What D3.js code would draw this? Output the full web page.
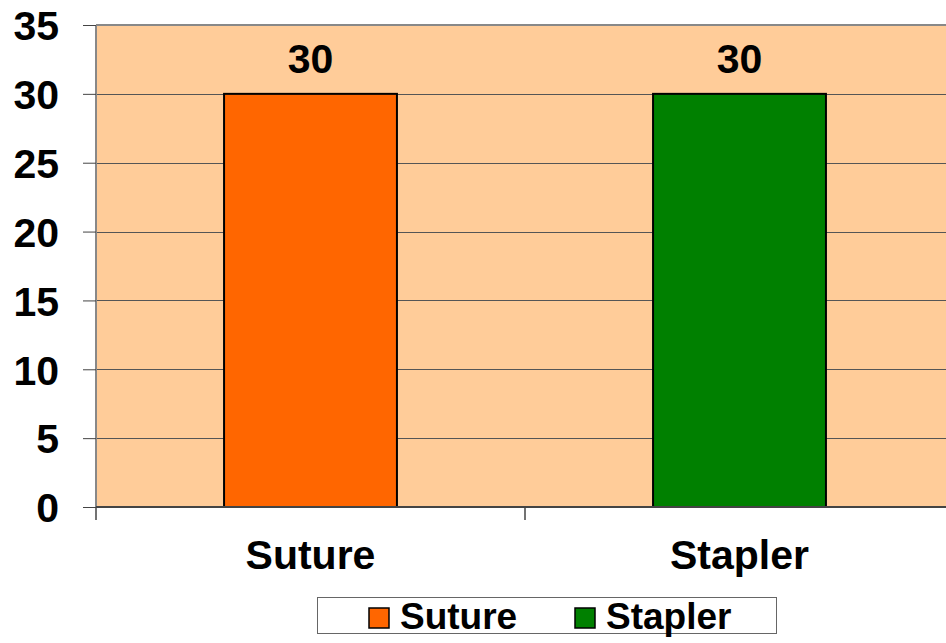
<!DOCTYPE html>
<html>
<head>
<meta charset="utf-8">
<script src="https://cdn.jsdelivr.net/npm/d3@7"></script>
<style>
  html, body { margin: 0; padding: 0; background: #fff; overflow: hidden; }
  svg { display: block; font-family: "Liberation Sans", Arial, sans-serif; font-weight: bold; }
</style>
</head>
<body>
<svg id="chart" width="946" height="643"></svg>
<script>
// Chart data
const categories = ["Suture", "Stapler"];
const values = [30, 30];
const colors = ["#FF6600", "#008000"];
const yTicks = [0, 5, 10, 15, 20, 25, 30, 35];

const svg = d3.select("#chart");
const plot = { left: 96, right: 954, top: 25, bottom: 507 };

const x = d3.scaleBand()
  .domain(categories)
  .range([plot.left, plot.right])
  .paddingInner(0)
  .paddingOuter(0);

const y = d3.scaleLinear()
  .domain([0, 35])
  .range([plot.bottom, plot.top]);

// Plot background
svg.append("rect")
  .attr("x", plot.left).attr("y", plot.top)
  .attr("width", plot.right - plot.left)
  .attr("height", plot.bottom - plot.top)
  .attr("fill", "#FFCC99");

// Gridlines
svg.append("g")
  .selectAll("line")
  .data(yTicks.filter(d => d > 0 && d < 35))
  .join("line")
  .attr("x1", plot.left).attr("x2", plot.right)
  .attr("y1", d => Math.round(y(d)) + 0.5).attr("y2", d => Math.round(y(d)) + 0.5)
  .attr("stroke", "#555").attr("stroke-width", 1);

// Plot frame (top and left)
svg.append("line")
  .attr("x1", plot.left).attr("x2", plot.right)
  .attr("y1", plot.top).attr("y2", plot.top)
  .attr("stroke", "#888").attr("stroke-width", 2);
svg.append("line")
  .attr("x1", plot.left).attr("x2", plot.left)
  .attr("y1", plot.top).attr("y2", plot.bottom)
  .attr("stroke", "#888").attr("stroke-width", 2);

// Bars
const barW = x.bandwidth() * 0.403;
svg.append("g")
  .selectAll("rect")
  .data(categories)
  .join("rect")
  .attr("x", d => x(d) + (x.bandwidth() - barW) / 2)
  .attr("y", (d, i) => y(values[i]))
  .attr("width", barW)
  .attr("height", (d, i) => y(0) - y(values[i]))
  .attr("fill", (d, i) => colors[i])
  .attr("stroke", "#000").attr("stroke-width", 2);

// Value labels
svg.append("g")
  .selectAll("text")
  .data(categories)
  .join("text")
  .attr("x", d => x(d) + x.bandwidth() / 2)
  .attr("y", (d, i) => y(values[i]) - 21)
  .attr("text-anchor", "middle")
  .attr("font-size", 41)
  .attr("fill", "#000")
  .text((d, i) => values[i]);

// Y axis
const yAxis = svg.append("g")
  .attr("transform", `translate(${plot.left},0)`)
  .call(d3.axisLeft(y).tickValues(yTicks).tickSize(13).tickPadding(24).tickFormat(d3.format("d")));
yAxis.select(".domain").remove();
yAxis.selectAll(".tick line").attr("stroke", "#444");
yAxis.selectAll(".tick text")
  .attr("font-size", 41).attr("font-family", "Liberation Sans, Arial, sans-serif")
  .attr("font-weight", "bold").attr("fill", "#000")
  .attr("dy", "0.36em");

// X axis
const xAxis = svg.append("g")
  .attr("transform", `translate(0,${plot.bottom})`)
  .call(d3.axisBottom(x).tickSize(0).tickPadding(33));
xAxis.select(".domain").attr("stroke", "#444").attr("stroke-width", 2)
  .attr("d", `M${plot.left},0H${plot.right}`);
xAxis.selectAll(".tick text")
  .attr("font-size", 41).attr("font-family", "Liberation Sans, Arial, sans-serif")
  .attr("font-weight", "bold").attr("fill", "#000");
// Category separator ticks
svg.append("g")
  .selectAll("line")
  .data([plot.left, x(categories[1])])
  .join("line")
  .attr("x1", d => d).attr("x2", d => d)
  .attr("y1", plot.bottom).attr("y2", plot.bottom + 13)
  .attr("stroke", "#444").attr("stroke-width", 1.5);

// Legend
const legend = svg.append("g");
legend.append("rect")
  .attr("x", 317.5).attr("y", 597.5).attr("width", 459).attr("height", 36)
  .attr("fill", "#fff").attr("stroke", "#666").attr("stroke-width", 1);
const legendX = [369, 575];
categories.forEach((c, i) => {
  legend.append("rect")
    .attr("x", legendX[i]).attr("y", 608).attr("width", 20).attr("height", 20)
    .attr("fill", colors[i]).attr("stroke", "#000").attr("stroke-width", 1.5);
  legend.append("text")
    .attr("x", legendX[i] + 31).attr("y", 629)
    .attr("font-size", 37).attr("fill", "#000")
    .text(c);
});
</script>
</body>
</html>
